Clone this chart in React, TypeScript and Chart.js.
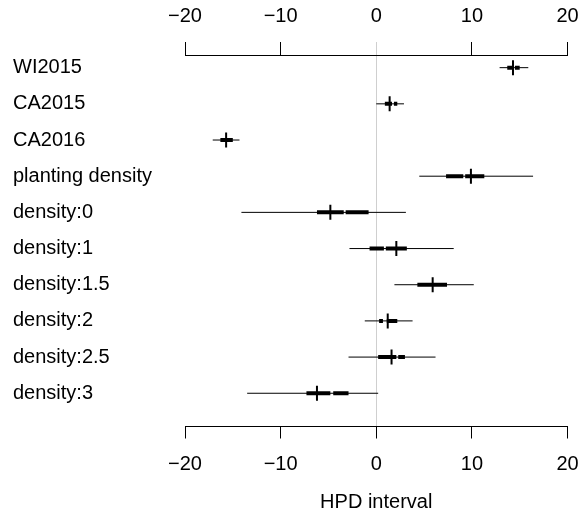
import { useEffect, useRef } from "react";
import { Chart, registerables } from "chart.js";

Chart.register(...registerables);

const parameters = [
  "WI2015",
  "CA2015",
  "CA2016",
  "planting density",
  "density:0",
  "density:1",
  "density:1.5",
  "density:2",
  "density:2.5",
  "density:3",
];

// outer (thin) HPD interval
const lower95 = [12.9, 0.0, -17.1, 4.5, -14.1, -2.8, 1.9, -1.2, -2.9, -13.5];
const upper95 = [15.9, 2.9, -14.3, 16.4, 3.1, 8.1, 10.2, 3.8, 6.2, 0.2];

// point estimates (vertical marks)
const centers = [14.3, 1.4, -15.7, 9.9, -4.8, 2.1, 5.9, 1.2, 1.6, -6.2];

// inner (thick) HPD intervals, some split in two pieces
const innerIntervals: number[][][] = [
  [[13.7, 14.2], [14.5, 15.0]],
  [[0.9, 1.65], [1.85, 2.2]],
  [[-16.3, -15.0]],
  [[7.3, 9.1], [9.3, 11.3]],
  [[-6.2, -3.4], [-3.2, -0.8]],
  [[-0.7, 0.8], [1.0, 3.2]],
  [[4.3, 7.4]],
  [[0.3, 0.7], [1.1, 2.2]],
  [[0.2, 2.1], [2.3, 3.0]],
  [[-7.3, -4.8], [-4.5, -2.9]],
];

const xTicks = [-20, -10, 0, 10, 20];
const axisTitle = "HPD interval";

const GREY = "#cfcfcf";
const FONT = "'Liberation Sans', Arial, Helvetica, sans-serif";

const fmt = (v: number | string) => {
  const n = Number(v);
  return n < 0 ? "\u2212" + Math.abs(n) : String(n);
};

export default function App() {
  const ref = useRef<HTMLCanvasElement>(null);

  useEffect(() => {
    if (!ref.current) return;
    Chart.defaults.font.family = FONT;

    const thin: any[] = [];
    parameters.forEach((_, i) => {
      thin.push({ x: lower95[i], y: i }, { x: upper95[i], y: i }, { x: upper95[i], y: null });
    });
    const thick: any[] = [];
    innerIntervals.forEach((segs, i) => {
      segs.forEach(([a, b]) => {
        thick.push({ x: a, y: i }, { x: b, y: i }, { x: b, y: null });
      });
    });
    const marks = centers.map((c, i) => ({ x: c, y: i }));

    const xBase = (position: "top" | "bottom") => ({
      type: "linear" as const,
      position,
      min: -20,
      max: 20,
      bounds: "data" as const,
      afterBuildTicks: (s: any) => {
        s.ticks = xTicks.map((v) => ({ value: v }));
      },
      ticks: {
        color: "#000",
        font: { size: 20, family: FONT },
        padding: 14,
        maxRotation: 0,
        autoSkip: false,
        callback: (v: any) => fmt(v),
      },
      border: { display: true, color: "#000", width: 1 },
    });

    const chart = new Chart(ref.current, {
      type: "line",
      data: {
        datasets: [
          {
            data: thin,
            borderColor: "#000",
            borderWidth: 1,
            pointRadius: 0,
            spanGaps: false,
            borderCapStyle: "butt",
            xAxisID: "x",
            yAxisID: "y",
          },
          {
            data: thick,
            borderColor: "#000",
            borderWidth: 4,
            pointRadius: 0,
            spanGaps: false,
            borderCapStyle: "butt",
            xAxisID: "x",
            yAxisID: "y",
          },
          {
            type: "scatter",
            data: marks,
            pointStyle: "line",
            pointRadius: 7.5,
            pointRotation: 90,
            pointBorderWidth: 2,
            pointBorderColor: "#000",
            pointBackgroundColor: "#000",
            xAxisID: "x",
            yAxisID: "y",
          } as any,
        ],
      },
      options: {
        responsive: false,
        animation: false,
        events: [],
        layout: { padding: { left: 13, right: 11.5, top: 0, bottom: 0 } },
        plugins: { legend: { display: false }, tooltip: { enabled: false } },
        scales: {
          x: {
            ...xBase("bottom"),
            grid: {
              drawOnChartArea: true,
              color: (ctx: any) => (ctx.tick && ctx.tick.value === 0 ? GREY : "rgba(0,0,0,0)"),
              tickColor: "#000",
              tickLength: 12.5,
              lineWidth: 1,
            },
            title: {
              display: true,
              text: axisTitle,
              color: "#000",
              font: { size: 20, family: FONT },
              padding: { top: 0, bottom: 0 },
            },
            afterFit: (s: any) => {
              s.height = 88;
              s.paddingLeft = 0;
              s.paddingRight = 0;
            },
          },
          x2: {
            ...xBase("top"),
            grid: {
              drawOnChartArea: false,
              color: "#000",
              tickColor: (ctx: any) => (ctx.tick && ctx.tick.value === 0 ? GREY : "#000"),
              tickLength: 13,
              lineWidth: 1,
            },
            afterFit: (s: any) => {
              s.height = 55;
              s.paddingLeft = 0;
              s.paddingRight = 0;
            },
          },
          y: {
            type: "linear",
            position: "left",
            reverse: true,
            min: -0.35,
            max: 9.905,
            bounds: "data",
            afterBuildTicks: (s: any) => {
              s.ticks = parameters.map((_, i) => ({ value: i }));
            },
            ticks: {
              color: "#000",
              font: { size: 20, family: FONT },
              autoSkip: false,
              crossAlign: "far",
              padding: 0,
              callback: (_v: any, i: number) => parameters[i],
            },
            grid: { display: false },
            border: { display: false },
            afterFit: (s: any) => {
              s.width = 172;
            },
          },
        } as any,
      },
    });
    return () => chart.destroy();
  }, []);

  return (
    <div style={{ position: "fixed", left: 0, top: 0, width: 579, height: 514, background: "#fff" }}>
      <canvas ref={ref} width={579} height={514} style={{ display: "block" }} />
    </div>
  );
}
